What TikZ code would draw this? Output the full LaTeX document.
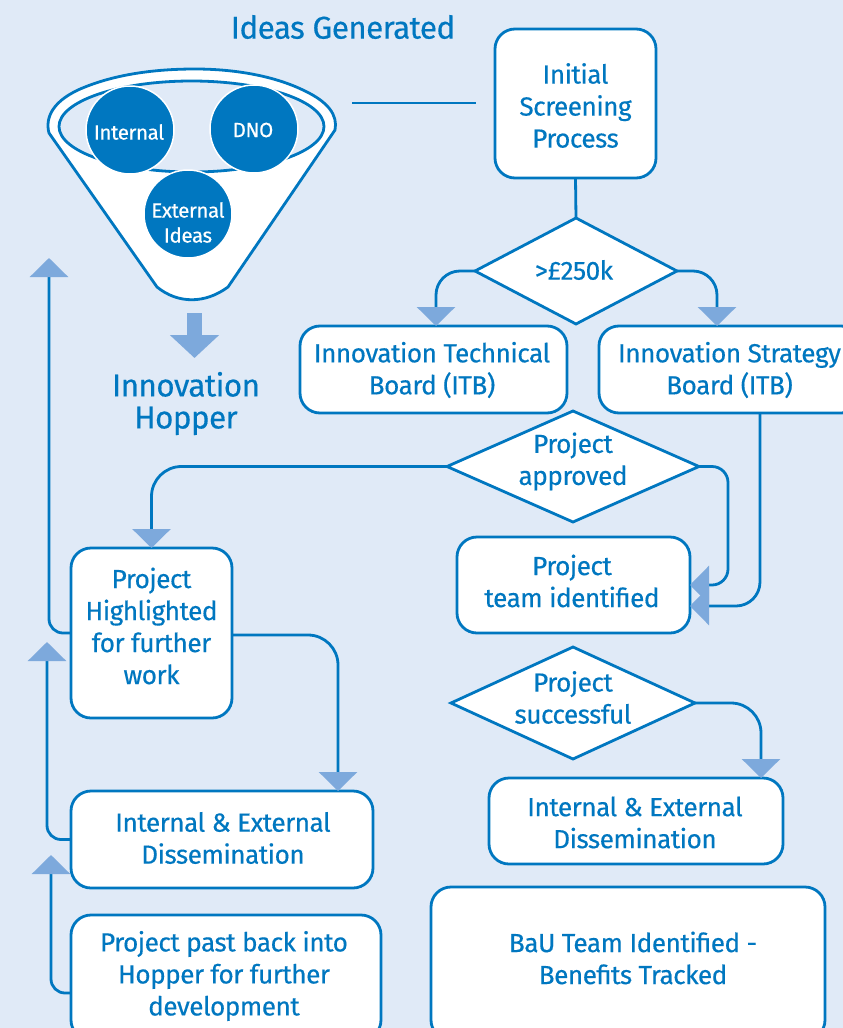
\documentclass[tikz,border=0pt]{standalone}
\usepackage{fontspec}
\setmainfont{Fira Sans}[LetterSpace=-2.0,FakeBold=0.35]
\usetikzlibrary{arrows.meta,shapes.geometric}
\definecolor{bg}{HTML}{E0EAF7}
\definecolor{blu}{HTML}{0077C0}
\definecolor{tipc}{HTML}{7DA9DC}
\tikzset{
  x=1bp,y=-1bp,
  boxtext/.style={font=\fontsize{26.2bp}{32bp}\selectfont,text=blu,align=center,inner sep=0pt,outer sep=0pt},
  pbox/.style={draw=blu,fill=white,line width=2.8bp,rounded corners=20bp,minimum width=#1,inner sep=0pt,outer sep=0pt},
  dia/.style={diamond,draw=blu,fill=white,line width=2.8bp,inner sep=0pt,outer sep=0pt},
  conn/.style={draw=blu,line width=2.8bp,rounded corners=#1},
  conn/.default=24bp,
  tip/.style={-{Triangle[width=38bp,length=19bp,color=tipc,fill=tipc]}},
  circ/.style={circle,fill=blu,draw=white,line width=1.5bp,minimum size=88bp,inner sep=0pt},
  circtext/.style={text=white,align=center,inner sep=0pt,font=\fontsize{20.5bp}{25bp}\selectfont},
  title/.style={font=\fontsize{31.5bp}{32bp}\selectfont,text=blu,align=center,inner sep=0pt},
}
\begin{document}
\begin{tikzpicture}
\useasboundingbox (0,0) rectangle (843,1028);
\clip (0,0) rectangle (843,1028);
\fill[bg] (0,0) rectangle (843,1028);

% funnel
\path[draw=blu,fill=white,line width=2.8bp,line join=round]
  (49,133) .. controls (45,118) and (52,100) .. (85,87)
  .. controls (120,73) and (160,69) .. (195,69)
  .. controls (235,69) and (275,76) .. (305,91)
  .. controls (328,102) and (338,115) .. (335,130)
  -- (228,287) .. controls (205,304) and (178,304) .. (157,287) -- cycle;
\node[draw=blu,fill=bg,line width=2.8bp,ellipse,minimum width=265bp,minimum height=91bp,inner sep=0pt] (rim) at (191.5,126.5) {};
\node[circ] (internal) at (130,130) {};
\node[circ] (dno) at (254,129) {};
\node[circ] (external) at (188,214) {};
\node[circtext] (internalT) at (129,132) {Internal};
\node[circtext] (dnoT) at (253,130) {DNO};
\node[circtext] (externalT) at (188,222.5) {External\\Ideas};

\node[title] (ideas) at (343,27) {Ideas Generated};
\node[title] (hopper) at (186,403.5) {Innovation\\Hopper};
\coordinate (hopA) at (194.5,313);
\coordinate (hopB) at (194.5,358);
\draw[line width=15bp,draw=tipc,-{Triangle[width=48bp,length=23bp,color=tipc,fill=tipc]}] (hopA) -- (hopB);

% boxes
\node[pbox=161bp,minimum height=149bp] (screen) at (575.5,103.5) {};
\node[pbox=267bp,minimum height=87bp] (tech) at (433.5,369.5) {};
\node[pbox=262bp,minimum height=87bp] (strat) at (730,369.5) {};
\node[pbox=233bp,minimum height=96bp] (team) at (573.5,585) {};
\node[pbox=161bp,minimum height=170bp] (high) at (151.5,633) {};
\node[pbox=302bp,minimum height=97bp] (dissL) at (222,839.5) {};
\node[pbox=294bp,minimum height=86bp] (dissR) at (636,821) {};
\node[pbox=310bp,minimum height=125bp] (past) at (226,977.5) {};
\node[pbox=394bp,minimum height=153bp] (bau) at (628,963.5) {};

% diamonds
\node[dia,minimum width=202bp,minimum height=106bp] (d1) at (576,271) {};
\node[dia,minimum width=252bp,minimum height=111bp] (d2) at (573,466.5) {};
\node[dia,minimum width=244bp,minimum height=112bp] (d3) at (573,703) {};

% texts
\node[boxtext] (screenT) at (575.5,105.5) {Initial\\Screening\\Process};
\node[boxtext] (techT) at (432,370) {Innovation Technical\\Board (ITB)};
\node[boxtext] (stratT) at (729.5,370) {Innovation Strategy\\Board (ITB)};
\node[boxtext] (teamT) at (572,581) {Project\\team identified};
\node[boxtext] (highT) at (151.5,626) {Project\\Highlighted\\for further\\work};
\node[boxtext] (dissLT) at (223,838) {Internal \& External\\Dissemination};
\node[boxtext] (dissRT) at (635,822.5) {Internal \& External\\Dissemination};
\node[boxtext] (pastT) at (224,976) {Project past back into\\Hopper for further\\development};
\node[boxtext] (bauT) at (633,958) {BaU Team Identified -\\Benefits Tracked};
\node[boxtext] (d1T) at (574,270) {>£250k};
\node[boxtext] (d2T) at (573,461.5) {Project\\approved};
\node[boxtext] (d3T) at (573,697.5) {Project\\successful};

% connectors
\coordinate (ln) at (352,103);
\coordinate (lnE) at (476,103);
\draw[conn] (ln) -- (lnE);
\draw[conn] (screen.south) -- (d1.north);
\draw[conn,tip] (d1.west) -| ([xshift=2.5bp]tech.north);
\draw[conn,tip] (d1.east) -| ([xshift=-13bp]strat.north);
\draw[conn=30bp,tip] (d2.west) -| (high.north);
\draw[conn=16bp,tip] (d2.east) -- ++(29,0) |- (team.east);
\draw[conn,tip] ([xshift=30bp]strat.south) |- ([yshift=-21bp]team.east);
\draw[conn=30bp,tip] (d3.east) -| ([xshift=125bp]dissR.north);
\draw[conn=30bp,tip] ([yshift=-2bp]high.east) -| ([xshift=116bp]dissL.north);
\coordinate (upA) at (49,258);
\coordinate (upB) at (47,642);
\coordinate (upC) at (51,855);
\draw[conn=14bp,tip] (high.west) -| (upA);
\draw[conn=14bp,tip] (dissL.west) -| (upB);
\draw[conn=14bp,tip] ([yshift=-15.5bp]past.west) -| (upC);
\end{tikzpicture}
\end{document}
